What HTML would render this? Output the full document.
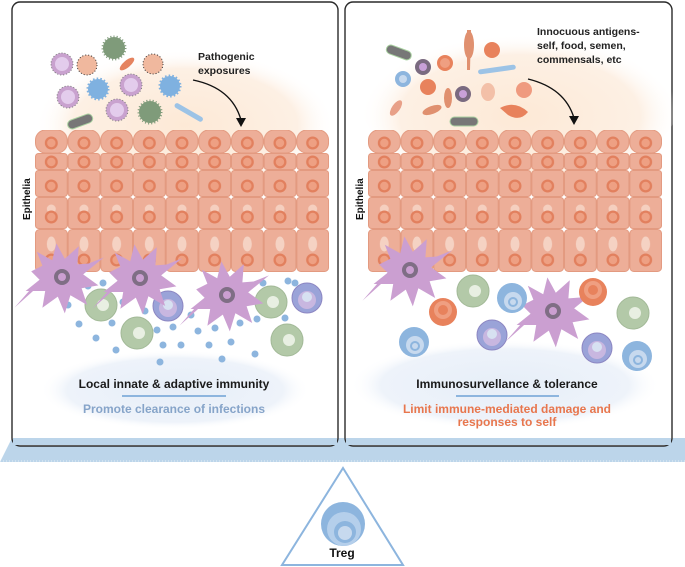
<!DOCTYPE html>
<html><head><meta charset="utf-8"><style>
html,body{margin:0;padding:0;background:#fff}
svg{display:block}
text{font-family:"Liberation Sans",Arial,sans-serif;font-weight:bold}
</style></head><body>
<svg width="685" height="567" viewBox="0 0 685 567" xmlns="http://www.w3.org/2000/svg">
<defs>
<radialGradient id="glow" cx="50%" cy="60%" r="50%">
<stop offset="0" stop-color="#fde9d6"/><stop offset="0.75" stop-color="#fdf0e4"/><stop offset="1" stop-color="#fff" stop-opacity="0"/>
</radialGradient>
<radialGradient id="blueglow" cx="50%" cy="50%" r="50%">
<stop offset="0" stop-color="#e6eef8"/><stop offset="0.8" stop-color="#eef3fa"/><stop offset="1" stop-color="#fff" stop-opacity="0"/>
</radialGradient>
<g id="nuc"><circle r="6.5" fill="#e2805e"/><circle r="4.2" fill="#eea083"/></g>
<pattern id="r1" patternUnits="userSpaceOnUse" x="35" y="130" width="32.67" height="23"><rect x="0.5" y="0" width="31.7" height="23" rx="10" fill="#edae98" stroke="#e39a80"/><use href="#nuc" x="16.3" y="13"/></pattern>
<pattern id="r2" patternUnits="userSpaceOnUse" x="35" y="153" width="32.67" height="17"><rect x="0.5" y="0.5" width="31.7" height="16" rx="3" fill="#edae98" stroke="#e39a80"/><use href="#nuc" x="16.3" y="9"/></pattern>
<pattern id="r3" patternUnits="userSpaceOnUse" x="35" y="170" width="32.67" height="27"><rect x="0.5" y="0.5" width="31.7" height="26" rx="3" fill="#edae98" stroke="#e39a80"/><use href="#nuc" x="16.3" y="16"/></pattern>
<pattern id="r4" patternUnits="userSpaceOnUse" x="35" y="197" width="32.67" height="32"><rect x="0.5" y="0.5" width="31.7" height="31" rx="3" fill="#edae98" stroke="#e39a80"/><circle cx="16.3" cy="12" r="4.5" fill="#f5cfbf"/><use href="#nuc" x="16.3" y="20"/></pattern>
<pattern id="r5" patternUnits="userSpaceOnUse" x="35" y="229" width="32.67" height="43"><rect x="0.5" y="0.5" width="31.7" height="42" rx="4" fill="#edae98" stroke="#e39a80"/><ellipse cx="16.3" cy="15" rx="4.5" ry="7.5" fill="#f5d2c3"/><use href="#nuc" x="16.3" y="31"/></pattern>
<g id="epi">
<rect x="35" y="130" width="294" height="23" fill="url(#r1)"/>
<rect x="35" y="153" width="294" height="17" fill="url(#r2)"/>
<rect x="35" y="170" width="294" height="27" fill="url(#r3)"/>
<rect x="35" y="197" width="294" height="32" fill="url(#r4)"/>
<rect x="35" y="229" width="294" height="43" fill="url(#r5)"/>
</g>
<g id="green"><circle r="16" fill="#b3c9a8" stroke="#a2b997"/><circle cx="2" cy="0" r="6" fill="#e8efe2"/></g>
<g id="blue"><circle r="15" fill="#8db5de"/><circle cx="1" cy="3" r="9" fill="#c7d9ee"/><circle cx="1" cy="4" r="5" fill="#8db5de"/><circle cx="1" cy="4" r="3" fill="#c7d9ee"/></g>
<g id="purp"><circle r="15" fill="#9aa3d8" stroke="#8c86c2"/><circle cx="0" cy="2" r="9" fill="#c8b7e0"/><circle cx="0" cy="-1" r="5" fill="#d7e1f1"/></g>
<g id="orange"><circle r="14" fill="#e8825c"/><circle cy="-2" r="9" fill="#ef9f81"/><circle cy="-2" r="5" fill="#e8825c"/></g>
<g id="dc"><g transform="scale(1.4)"><path d="M-22,-4 L-14,-8 L-18,-18 L-7,-12 L-4,-24 L2,-13 L12,-22 L11,-9 L24,-10 L15,-2 L26,6 L14,8 L18,20 L6,13 L2,26 L-3,14 L-14,22 L-12,10 L-26,10 L-16,2 Z" fill="#cb9fd1"/><path d="M-20,6 L-34,22 L-14,4 Z" fill="#cb9fd1"/><path d="M10,-6 L30,-14 L14,-1 Z" fill="#cb9fd1"/></g><circle r="8" fill="#7f6e85"/><circle r="4" fill="#cb9fd1"/></g>
<g id="virus"><circle r="11" fill="#c9a2cf" stroke="#7a7a7a" stroke-dasharray="1 2"/><circle r="7" fill="#e3ccec"/></g>
<g id="spiky"><circle r="11" fill="#7f9b7a" stroke="#7f9b7a" stroke-width="3" stroke-dasharray="1 2"/></g>
<g id="bspiky"><circle r="10" fill="#7fb1e0" stroke="#7fb1e0" stroke-width="3" stroke-dasharray="1.5 2"/></g>
</defs>

<polygon points="12,438 685,438 685,462 0,462" fill="#bcd5ea"/>
<line x1="0" y1="461" x2="685" y2="461" stroke="#e4eef7" stroke-dasharray="1 2"/>

<rect x="12" y="2" width="326" height="444" rx="8" fill="#fff" stroke="#2a2a2a" stroke-width="1.4"/>
<rect x="345" y="2" width="327" height="444" rx="8" fill="#fff" stroke="#2a2a2a" stroke-width="1.4"/>
<rect x="13" y="438" width="324" height="7" fill="#bcd5ea"/>
<rect x="346" y="438" width="325" height="7" fill="#bcd5ea"/>

<ellipse cx="185" cy="110" rx="150" ry="75" fill="url(#glow)"/>
<ellipse cx="520" cy="100" rx="160" ry="82" fill="url(#glow)"/>
<ellipse cx="175" cy="390" rx="135" ry="40" fill="url(#blueglow)"/>
<ellipse cx="505" cy="385" rx="155" ry="45" fill="url(#blueglow)"/>

<use href="#epi"/>
<use href="#epi" x="333"/>
<text transform="translate(30,220) rotate(-90)" font-size="10" fill="#111">Epithelia</text>
<text transform="translate(363,220) rotate(-90)" font-size="10" fill="#111">Epithelia</text>

<use href="#virus" x="62" y="64"/><use href="#virus" x="68" y="97"/><use href="#virus" x="117" y="110"/><use href="#virus" x="131" y="85"/>
<circle cx="87" cy="65" r="10" fill="#f0b89e" stroke="#333" stroke-dasharray="1 2"/><circle cx="153" cy="64" r="10" fill="#f0b89e" stroke="#333" stroke-dasharray="1 2"/>
<use href="#spiky" x="114" y="48"/><use href="#spiky" x="150" y="112"/>
<use href="#bspiky" x="98" y="89"/><use href="#bspiky" x="170" y="86"/>
<rect x="67" y="117" width="26" height="9" rx="4.5" transform="rotate(-20 80 121)" fill="#777" stroke="#a9d1a0"/>
<rect x="173" y="110" width="32" height="5" rx="2.5" transform="rotate(30 189 112)" fill="#9cc3e6"/>
<ellipse cx="127" cy="64" rx="9" ry="3.5" transform="rotate(-40 127 64)" fill="#e5835f"/>

<rect x="386" y="48" width="26" height="9" rx="4.5" transform="rotate(20 399 52)" fill="#777" stroke="#a9d1a0"/>
<circle cx="403" cy="79" r="8" fill="#8db5de"/><circle cx="403" cy="79" r="4" fill="#c7d9ee"/>
<circle cx="423" cy="67" r="8" fill="#7a6a80"/><circle cx="423" cy="67" r="4" fill="#c8a0d8"/>
<circle cx="445" cy="63" r="8" fill="#e8825c"/><circle cx="445" cy="63" r="5" fill="#ef9f81"/>
<circle cx="428" cy="87" r="8" fill="#e8825c"/><circle cx="492" cy="50" r="8" fill="#e8825c"/><circle cx="524" cy="90" r="8" fill="#ef9a7f"/>
<circle cx="463" cy="94" r="8" fill="#7a6a80"/><circle cx="463" cy="94" r="4" fill="#c8a0d8"/>
<ellipse cx="488" cy="92" rx="7" ry="9" fill="#f3c0a8"/>
<rect x="478" y="67" width="38" height="5" rx="2.5" transform="rotate(-8 497 70)" fill="#9cc3e6"/>
<path d="M467,70 L467,30 L471,30 L470,70 Z" fill="#e0906f"/><ellipse cx="469" cy="45" rx="5" ry="14" fill="#e0906f"/>
<ellipse cx="448" cy="98" rx="4" ry="10" fill="#e0906f"/>
<ellipse cx="396" cy="108" rx="4" ry="9" transform="rotate(35 396 108)" fill="#e8a088"/>
<ellipse cx="432" cy="110" rx="10" ry="4" transform="rotate(-20 432 110)" fill="#e0906f"/>
<rect x="450" y="117" width="28" height="9" rx="4.5" fill="#777" stroke="#a9d1a0"/>
<path d="M500,108 Q515,100 528,112 Q520,122 508,115 Z" fill="#e8825c"/>

<path d="M193,80 Q232,88 241,120" fill="none" stroke="#111" stroke-width="1.4"/>
<polygon points="236,118 246,118 241,127" fill="#111"/>
<path d="M528,79 Q565,88 574,118" fill="none" stroke="#111" stroke-width="1.4"/>
<polygon points="569,116 579,116 574,125" fill="#111"/>
<text x="198" y="60" font-size="10.5" fill="#222">Pathogenic</text>
<text x="198" y="74" font-size="10.5" fill="#222">exposures</text>
<text x="537" y="35" font-size="10.5" fill="#222">Innocuous antigens-</text>
<text x="537" y="49" font-size="10.5" fill="#222">self, food, semen,</text>
<text x="537" y="63" font-size="10.5" fill="#222">commensals, etc</text>

<g fill="#8db5de">
<circle cx="88" cy="286" r="3.5"/><circle cx="103" cy="283" r="3.5"/><circle cx="68" cy="305" r="3.5"/><circle cx="123" cy="302" r="3.5"/><circle cx="145" cy="311" r="3.5"/><circle cx="79" cy="324" r="3.5"/><circle cx="112" cy="323" r="3.5"/><circle cx="96" cy="338" r="3.5"/><circle cx="116" cy="350" r="3.5"/><circle cx="157" cy="330" r="3.5"/><circle cx="173" cy="327" r="3.5"/><circle cx="198" cy="331" r="3.5"/><circle cx="215" cy="328" r="3.5"/><circle cx="240" cy="323" r="3.5"/><circle cx="257" cy="319" r="3.5"/><circle cx="191" cy="315" r="3.5"/><circle cx="163" cy="345" r="3.5"/><circle cx="181" cy="345" r="3.5"/><circle cx="209" cy="345" r="3.5"/><circle cx="231" cy="342" r="3.5"/><circle cx="160" cy="362" r="3.5"/><circle cx="222" cy="359" r="3.5"/><circle cx="255" cy="354" r="3.5"/><circle cx="285" cy="318" r="3.5"/><circle cx="263" cy="283" r="3.5"/><circle cx="288" cy="281" r="3.5"/><circle cx="295" cy="283" r="3.5"/><circle cx="232" cy="283" r="3.5"/>
</g>
<use href="#green" x="101" y="305"/><use href="#green" x="137" y="333"/><use href="#green" x="271" y="302"/><use href="#green" x="287" y="340"/>
<use href="#purp" x="168" y="306"/><use href="#purp" x="307" y="298"/>
<use href="#dc" x="62" y="277"/><use href="#dc" x="140" y="278"/><use href="#dc" x="227" y="295"/>

<use href="#dc" x="410" y="270"/><use href="#dc" x="553" y="311"/>
<use href="#green" x="473" y="291"/><use href="#green" x="633" y="313"/>
<use href="#blue" x="512" y="298"/><use href="#blue" x="414" y="342"/><use href="#blue" x="637" y="356"/>
<use href="#orange" x="443" y="312"/><use href="#orange" x="593" y="292"/>
<use href="#purp" x="492" y="335"/><use href="#purp" x="597" y="348"/>

<text x="174" y="388" font-size="12" fill="#1a1a1a" text-anchor="middle">Local innate &amp; adaptive immunity</text>
<rect x="122" y="395" width="104" height="2" fill="#8db5de"/>
<text x="174" y="413" font-size="12" fill="#86a4c9" text-anchor="middle">Promote clearance of infections</text>
<text x="507" y="388" font-size="12" fill="#1a1a1a" text-anchor="middle">Immunosurvellance &amp; tolerance</text>
<rect x="456" y="395" width="103" height="2" fill="#8db5de"/>
<text x="507" y="413" font-size="12" fill="#e8764d" text-anchor="middle">Limit immune-mediated damage and</text>
<text x="507" y="426" font-size="12" fill="#e8764d" text-anchor="middle">responses to self</text>

<polygon points="343,468 403,565 282,565" fill="#fff" stroke="#8db5de" stroke-width="2"/>
<circle cx="343" cy="524" r="22" fill="#8db5de"/><circle cx="344" cy="529" r="17" fill="#b5cfeb"/><circle cx="345" cy="532" r="11" fill="#8db5de"/><circle cx="345" cy="533" r="7" fill="#c7d9ee"/>
<text x="342" y="557" font-size="12" fill="#111" text-anchor="middle">Treg</text>
</svg>
</body></html>
